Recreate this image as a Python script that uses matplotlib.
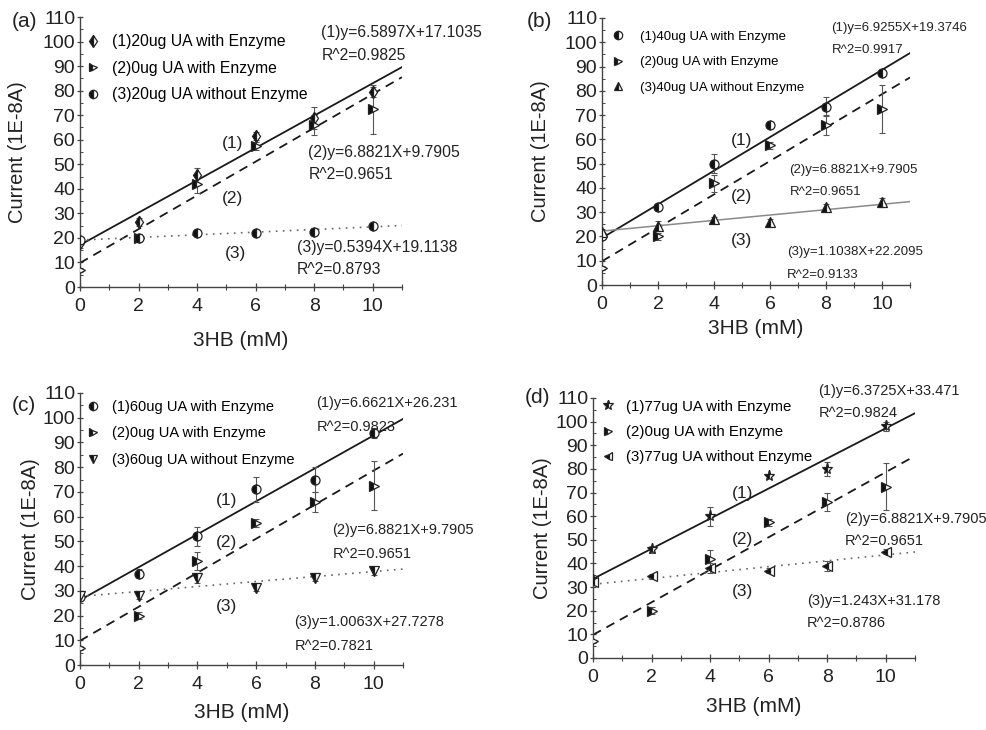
import matplotlib
matplotlib.use("Agg")
import matplotlib.pyplot as plt
from matplotlib.lines import Line2D
from matplotlib.ticker import MultipleLocator
import numpy as np

plt.rcParams["font.family"] = ["Liberation Sans", "DejaVu Sans"]

# 3HB concentrations (mM)
x_conc = [0, 2, 4, 6, 8, 10]

# shared control: 0ug UA with enzyme
ctrl_y = [7, 20, 42, 57.5, 66, 72.5]
ctrl_err = [0.8, 1.5, 3.5, 1.5, 4, 10]

# panel (a): 20ug UA
a_s1 = [18, 26.5, 45.5, 61.5, 69, 79.5]
a_s1_err = [2, 1.5, 3, 1.5, 4.5, 2]
a_s3 = [19, 20, 22, 22, 22.5, 25]
a_s3_err = [1, 1, 1, 0.8, 1.5, 1]

# panel (b): 40ug UA
b_s1 = [20, 32, 50, 66, 73.5, 87.5]
b_s1_err = [1, 1.5, 4, 1, 4, 1.5]
b_s3 = [22, 24.5, 27, 26, 32, 34]
b_s3_err = [1, 2, 1, 1, 1.5, 2]

# panel (c): 60ug UA
c_s1 = [27.5, 37, 52, 71, 75, 94]
c_s1_err = [1, 2, 4, 5, 5, 2]
c_s3 = [28, 28, 35, 31, 35, 38]
c_s3_err = [1, 1.5, 2, 1, 1, 1.5]

# panel (d): 77ug UA
d_s1 = [33, 46, 60, 77, 80, 98]
d_s1_err = [1, 1.5, 4, 1, 3, 2]
d_s3 = [32, 34.5, 38, 37, 39, 45]
d_s3_err = [1, 1, 2, 1, 2, 1]

# linear fits: slopes, intercepts, R^2
a_fit = {"m": [6.5897, 6.8821, 0.5394], "b": [17.1035, 9.7905, 19.1138], "r2": ["0.9825", "0.9651", "0.8793"]}
b_fit = {"m": [6.9255, 6.8821, 1.1038], "b": [19.3746, 9.7905, 22.2095], "r2": ["0.9917", "0.9651", "0.9133"]}
c_fit = {"m": [6.6621, 6.8821, 1.0063], "b": [26.231, 9.7905, 27.7278], "r2": ["0.9823", "0.9651", "0.7821"]}
d_fit = {"m": [6.3725, 6.8821, 1.243], "b": [33.471, 9.7905, 31.178], "r2": ["0.9824", "0.9651", "0.8786"]}

labels_a = ["(1)20ug UA with Enzyme", "(2)0ug UA with Enzyme", "(3)20ug UA without Enzyme"]
labels_b = ["(1)40ug UA with Enzyme", "(2)0ug UA with Enzyme", "(3)40ug UA without Enzyme"]
labels_c = ["(1)60ug UA with Enzyme", "(2)0ug UA with Enzyme", "(3)60ug UA without Enzyme"]
labels_d = ["(1)77ug UA with Enzyme", "(2)0ug UA with Enzyme", "(3)77ug UA without Enzyme"]

FIG_W, FIG_H = 986, 730

panels = [
    dict(tag="(a)", rect=[80, 17, 402, 287], s1=a_s1, e1=a_s1_err, s3=a_s3, e3=a_s3_err,
         fit=a_fit, labels=labels_a, markers=["d", ">", "o"],
         line3=dict(color="#666666", ls=(0, (1, 3.2)), lw=1.2),
         num_pos=[(5.2, 58.5), (5.2, 36), (5.3, 13.5)],
         eq_pos=[(8.25, 103.5), (7.8, 55), (7.4, 16)], eq_gap=9.0,
         tag_px=(12, 12), fs_leg=11.3, fs_eq=11.3,
         leg=dict(x=5.2, y=17.3, ls=0.73, tp=0.71),
         ylab_px=62, xlab_px=53),
    dict(tag="(b)", rect=[602, 18, 910, 285], s1=b_s1, e1=b_s1_err, s3=b_s3, e3=b_s3_err,
         fit=b_fit, labels=labels_b, markers=["o", ">", "^"],
         line3=dict(color="#8a8a8a", ls="-", lw=1.1),
         num_pos=[(5.0, 59.7), (5.0, 36.3), (5.0, 18.5)],
         eq_pos=[(8.2, 106), (6.7, 47.5), (6.6, 13.5)], eq_gap=9.3,
         tag_px=(527, 12), fs_leg=9.5, fs_eq=9.5,
         leg=dict(x=9.4, y=12.6, ls=1.01, tp=1.17),
         ylab_px=61, xlab_px=43),
    dict(tag="(c)", rect=[80, 393, 403, 665], s1=c_s1, e1=c_s1_err, s3=c_s3, e3=c_s3_err,
         fit=c_fit, labels=labels_c, markers=["o", ">", "v"],
         line3=dict(color="#666666", ls=(0, (1, 3.2)), lw=1.2),
         num_pos=[(5.0, 66.7), (5.0, 49.7), (5.0, 23.5)],
         eq_pos=[(8.05, 106), (8.6, 54.5), (7.3, 17.5)], eq_gap=9.8,
         tag_px=(12, 396), fs_leg=10.5, fs_eq=10.5,
         leg=dict(x=5.7, y=6.8, ls=0.86, tp=0.8),
         ylab_px=50, xlab_px=47),
    dict(tag="(d)", rect=[593, 398, 915, 658], s1=d_s1, e1=d_s1_err, s3=d_s3, e3=d_s3_err,
         fit=d_fit, labels=labels_d, markers=["*", ">", "<"],
         line3=dict(color="#666666", ls=(0, (1, 3.2)), lw=1.2),
         num_pos=[(5.1, 69.8), (5.1, 50), (5.1, 28.3)],
         eq_pos=[(7.7, 113), (8.6, 58.8), (7.3, 24)], eq_gap=9.3,
         tag_px=(525, 388), fs_leg=10.8, fs_eq=10.5,
         leg=dict(x=7.5, y=1.6, ls=0.75, tp=0.7),
         ylab_px=50, xlab_px=49),
]

fig = plt.figure(figsize=(FIG_W / 100, FIG_H / 100), dpi=100)

x_line = np.array([0, 11])

for p in panels:
    l, t, r, b = p["rect"]
    w_px, h_px = r - l, b - t
    ax = fig.add_axes([l / FIG_W, 1 - b / FIG_H, w_px / FIG_W, h_px / FIG_H])
    fit = p["fit"]
    series = [(p["s1"], p["e1"]), (ctrl_y, ctrl_err), (p["s3"], p["e3"])]
    line_styles = [dict(color="#1a1a1a", ls="-", lw=1.3),
                   dict(color="#1a1a1a", ls=(0, (5, 3.5)), lw=1.3),
                   p["line3"]]

    # fitted lines
    for k in range(3):
        ax.plot(x_line, fit["m"][k] * x_line + fit["b"][k], zorder=2, **line_styles[k])

    # measured points with error bars
    handles = []
    for k, (ys, es) in enumerate(series):
        mk = p["markers"][k]
        ms = 8 if mk == "*" else 6.5
        ax.errorbar(x_conc, ys, yerr=es, fmt="none", ecolor="#555555", elinewidth=0.8,
                    capsize=2, capthick=0.8, zorder=3)
        ax.plot(x_conc, ys, ls="none", marker=mk, markersize=ms, markerfacecolor="#111111",
                markerfacecoloralt="white", fillstyle="left", markeredgecolor="#222222",
                markeredgewidth=0.9, zorder=4)
        handles.append(Line2D([], [], ls="none", marker=mk, markersize=ms - 0.5,
                              markerfacecolor="#111111", markerfacecoloralt="white",
                              fillstyle="left", markeredgecolor="#222222", markeredgewidth=0.9))

    lg = p["leg"]
    ax.legend(handles, p["labels"], loc="upper left",
              bbox_to_anchor=(lg["x"] / w_px, 1 - lg["y"] / h_px),
              frameon=False, fontsize=p["fs_leg"], handlelength=1.0, handletextpad=lg["tp"],
              labelspacing=lg["ls"], borderaxespad=0.0, borderpad=0.0)

    # curve numbers
    for k, (tx, ty) in enumerate(p["num_pos"]):
        ax.text(tx, ty, f"({k + 1})", fontsize=12.5, ha="center", va="center", color="#222222")

    # fit equations
    for k, (tx, ty) in enumerate(p["eq_pos"]):
        ax.text(tx, ty, f"({k + 1})y={fit['m'][k]}X+{fit['b'][k]}", fontsize=p["fs_eq"],
                ha="left", va="center", color="#222222")
        ax.text(tx, ty - p["eq_gap"], f"R^2={fit['r2'][k]}", fontsize=p["fs_eq"],
                ha="left", va="center", color="#222222")

    ax.set_xlim(0, 11)
    ax.set_ylim(0, 110)
    ax.set_xticks([0, 2, 4, 6, 8, 10])
    ax.xaxis.set_minor_locator(MultipleLocator(1))
    ax.set_yticks(range(0, 111, 10))
    ax.yaxis.set_minor_locator(MultipleLocator(5))
    for s in ["top", "right"]:
        ax.spines[s].set_visible(False)
    for s in ["left", "bottom"]:
        ax.spines[s].set_linewidth(1.0)
        ax.spines[s].set_color("#444444")
    ax.tick_params(axis="x", which="major", direction="inout", length=6, width=0.9,
                   labelsize=14, colors="#444444", labelcolor="#222222", pad=5)
    ax.tick_params(axis="x", which="minor", direction="inout", length=4, width=0.8, colors="#444444")
    ax.tick_params(axis="y", which="major", direction="inout", length=5, width=0.9,
                   labelsize=14, colors="#444444", labelcolor="#222222", pad=1)
    ax.tick_params(axis="y", which="minor", direction="in", length=2.5, width=0.7, colors="#444444")
    ax.set_xlabel("3HB (mM)", fontsize=15, color="#222222", va="center")
    ax.set_ylabel("Current (1E-8A)", fontsize=14.5, color="#222222", va="center")
    ax.xaxis.set_label_coords(0.5, -p["xlab_px"] / h_px)
    ax.yaxis.set_label_coords(-p["ylab_px"] / w_px, 0.5)

    fig.text(p["tag_px"][0] / FIG_W, 1 - p["tag_px"][1] / FIG_H, p["tag"], fontsize=15,
             ha="left", va="top", color="#222222")

fig.savefig("out.png", dpi=100, facecolor="white")
